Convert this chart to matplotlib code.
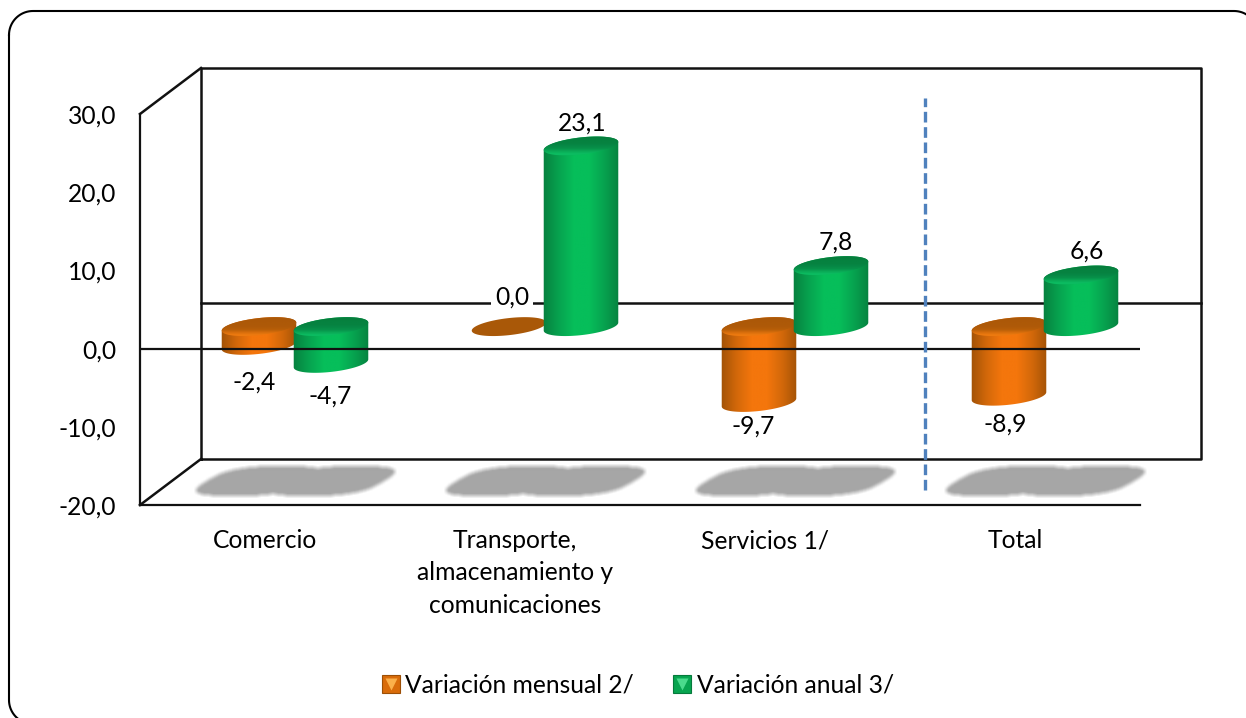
# Variacion mensual y anual por sector, cilindros con aspecto 3D
import numpy as np
import matplotlib
matplotlib.use("Agg")
import matplotlib.pyplot as plt
from matplotlib.colors import LinearSegmentedColormap
from matplotlib.legend_handler import HandlerTuple
from matplotlib.patches import Polygon
from matplotlib.path import Path

plt.rcParams["font.family"] = ["Lato", "DejaVu Sans"]

categories = ["Comercio", "Transporte,\nalmacenamiento y\ncomunicaciones", "Servicios 1/", "Total"]
mensual = [-2.4, 0.0, -9.7, -8.9]
anual = [-4.7, 23.1, 7.8, 6.6]
y_ticks = [-20, -10, 0, 10, 20, 30]

W, H = 1246, 718
FONT = 17.7
LINE = "#111111"

fig = plt.figure(figsize=(W / 100, H / 100), dpi=100)
ax = fig.add_axes([140 / W, 1 - 505 / H, 1000 / W, 391 / H])
ax.set_xlim(0, 4)
ax.set_ylim(-20, 30)

# pixels to data units
PX = 4 / 1000
PY = 50 / 391
DEPTH_X = 61 * PX
DEPTH_Y = 46 * PY
BAR_A = 37.5
BAR_B = 8.5
TILT = np.radians(6.5)


def ellipse(cx, cy, t):
    x = BAR_A * np.cos(t) * np.cos(TILT) - BAR_B * np.sin(t) * np.sin(TILT)
    y = BAR_A * np.cos(t) * np.sin(TILT) + BAR_B * np.sin(t) * np.cos(TILT)
    return np.column_stack([cx + x * PX, cy + y * PY])


def gradient(colors, extent, path, vertical=False, zorder=3):
    cmap = LinearSegmentedColormap.from_list("g", colors)
    g = np.linspace(0, 1, 128)
    g = g[:, None] if vertical else g[None, :]
    im = ax.imshow(g, extent=extent, aspect="auto", cmap=cmap, origin="upper", zorder=zorder)
    im.set_clip_path(path, transform=ax.transData)
    im.set_clip_box(None)


def cylinder(cx, value, base, side, cap, zorder):
    t_edge = np.arctan2(-BAR_B * np.sin(TILT), BAR_A * np.cos(TILT))
    top = max(value, 0) + base
    bottom = min(value, 0) + base
    w = BAR_A * 1.02 * PX
    full = np.linspace(0, 2 * np.pi, 80)
    if value != 0:
        # lower arc of the base, upper arc of the top, between the side tangents
        low = ellipse(cx, bottom, np.linspace(t_edge, t_edge - np.pi, 50))
        up = ellipse(cx, top, np.linspace(t_edge - np.pi, t_edge - 2 * np.pi, 50))
        body = Path(np.vstack([low, up, low[:1]]))
        gradient(side, [cx - w, cx + w, bottom - 20 * PY, top + 20 * PY], body, zorder=zorder)
        lid = Path(ellipse(cx, top, full))
        gradient(cap, [cx - w, cx + w, top - 11 * PY, top + 11 * PY], lid, vertical=True, zorder=zorder + 0.1)
    else:
        ax.add_patch(Polygon(ellipse(cx, top, full), fc=cap[0], ec="none", zorder=zorder))


ORANGE_SIDE = ["#A25206", "#D2680A", "#F4760C", "#F4760C", "#D2680A", "#A25206"]
ORANGE_CAP = ["#A95808", "#AB5808", "#AD5908", "#AD5908", "#B05A08", "#B85F08", "#D86E0C", "#F07C10", "#E2730C"]
GREEN_SIDE = ["#06813F", "#07A24F", "#06BE5A", "#06BE5A", "#07A24F", "#06813F"]
GREEN_CAP = ["#067E3C", "#067E3C", "#068240", "#068240", "#078845", "#07914A", "#0AAA56", "#0CBE62", "#09AE58"]

# floor shadows, soft edged
xs = np.arange(190, 1160)
ys = np.arange(458, 504)
gx, gy = np.meshgrid(xs, ys)
mask = np.zeros(gx.shape)
for i in range(len(categories)):
    centre = 140 + (i + 0.5) * 250 + 30
    for side in (-37, 37):
        u = (gx - centre - side + 1.7 * (gy - 481)) / 52
        v = (gy - 481) / 14.5
        mask = np.maximum(mask, (np.abs(u) ** 3 + np.abs(v) ** 3 < 1).astype(float))
kernel = np.ones(5) / 5
mask = np.apply_along_axis(lambda r: np.convolve(r, kernel, mode="same"), 0, mask)
mask = np.apply_along_axis(lambda r: np.convolve(r, kernel, mode="same"), 1, mask)
shadow = np.zeros(mask.shape + (4,))
shadow[..., :3] = 166 / 255
shadow[..., 3] = mask
ax.imshow(shadow, extent=[(190 - 140) * PX, (1160 - 140) * PX, (505 - 504) * PY - 20, (505 - 458) * PY - 20],
          aspect="auto", origin="upper", zorder=1.5, clip_on=False)

# back wall and side wall
wall = dict(color=LINE, lw=1.8, clip_on=False, zorder=1, solid_capstyle="projecting")
ax.plot([DEPTH_X, DEPTH_X + 4, DEPTH_X + 4, DEPTH_X, DEPTH_X],
        [-20 + DEPTH_Y, -20 + DEPTH_Y, 30 + DEPTH_Y, 30 + DEPTH_Y, -20 + DEPTH_Y], **wall)
ax.plot([DEPTH_X, DEPTH_X + 4], [DEPTH_Y, DEPTH_Y], **wall)
ax.plot([0, DEPTH_X], [30, 30 + DEPTH_Y], **wall)
ax.plot([0, DEPTH_X], [-20, -20 + DEPTH_Y], **wall)

# bars sit half way through the depth
base = 22 * PY
for i in range(len(categories)):
    cx = i + 0.5 + 30 * PX
    cylinder(cx - 36 * PX, mensual[i], base, ORANGE_SIDE, ORANGE_CAP, 3)
    cylinder(cx + 36 * PX, anual[i], base, GREEN_SIDE, GREEN_CAP, 3.5)

# front zero line crosses over the bars
ax.axhline(0, color=LINE, lw=1.6, zorder=5)

# data labels, shift is in pixels from the bar end
shift_m = [(-5, -37), (3, 30), (-6, -24), (-4, -28)]
shift_a = [(-1, -33), (1, 23), (5, 24), (6, 24)]
for i in range(len(categories)):
    cx = i + 0.5 + 30 * PX
    for off, vals, shifts in ((-36, mensual, shift_m), (36, anual, shift_a)):
        v = vals[i]
        sx, sy = shifts[i]
        bbox = dict(fc="white", ec="none", pad=3) if v == 0 else None
        ax.text(cx + (off + sx) * PX, base + v + sy * PY, f"{v:.1f}".replace(".", ","), fontsize=FONT,
                ha="center", va="center", color="black", zorder=6, bbox=bbox)

# separator between the sectors and the total
ax.plot([785 * PX, 785 * PX], [(505 - 490) * PY - 20, (505 - 98) * PY - 20], color="#4F81BD", lw=2.4,
        dashes=(3.2, 1.4), clip_on=False, zorder=7)

for name in ("top", "right"):
    ax.spines[name].set_visible(False)
for name in ("left", "bottom"):
    ax.spines[name].set_linewidth(1.6)
    ax.spines[name].set_color(LINE)
ax.set_xticks([i + 0.5 for i in range(len(categories))])
ax.set_xticklabels(categories, fontsize=FONT, linespacing=1.49, va="top")
ax.set_yticks(y_ticks)
ax.set_yticklabels([f"{v:.1f}".replace(".", ",") for v in y_ticks], fontsize=FONT)
ax.tick_params(axis="x", length=0, pad=17.3)
ax.tick_params(axis="y", length=0, pad=17)
ax.patch.set_alpha(0)
ax.set_xlim(0, 4)
ax.set_ylim(-20, 30)

# outer rounded frame runs past the right and bottom edges of the picture
L, T, R, B, RAD = 9, 11, 1258, 724, 24
arc = np.linspace(0, np.pi / 2, 20)
fx = np.concatenate([L + RAD - RAD * np.cos(arc), R - RAD + RAD * np.sin(arc),
                     R - RAD + RAD * np.cos(arc), L + RAD - RAD * np.sin(arc)])
fy = np.concatenate([T + RAD - RAD * np.sin(arc), T + RAD - RAD * np.cos(arc),
                     B - RAD + RAD * np.sin(arc), B - RAD + RAD * np.cos(arc)])
frame = plt.Line2D(np.append(fx, fx[0]) / W, 1 - np.append(fy, fy[0]) / H, color="black", lw=1.5,
                   transform=fig.transFigure)
fig.add_artist(frame)


def key(fill, light, edge):
    square = plt.Line2D([], [], marker="s", ms=12.5, mfc=fill, mec=edge, mew=0.8, ls="")
    tri = plt.Line2D([], [], marker="v", ms=8, mfc=light, mec="none", ls="")
    return (square, tri)


handles = [key("#D96C0A", "#FBB04A", "#9C4F06"), key("#08A550", "#4ADB8C", "#067A3C")]
ax.legend(handles, ["Variación mensual 2/", "Variación anual 3/"], handler_map={tuple: HandlerTuple(ndivide=1, pad=0)},
          loc="center", bbox_to_anchor=(638 / W, 1 - 685 / H), bbox_transform=fig.transFigure, ncol=2, frameon=False,
          fontsize=FONT, handlelength=0.7, handletextpad=0.25, columnspacing=1.6)

fig.savefig("out.png", dpi=100)
